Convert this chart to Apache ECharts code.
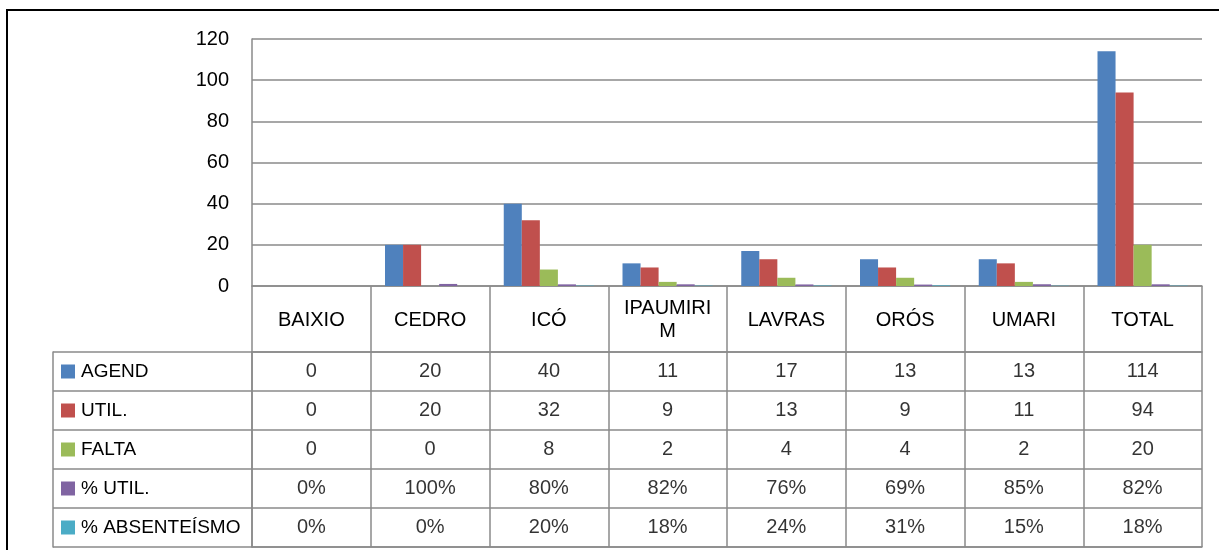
<!DOCTYPE html>
<html>
<head>
<meta charset="utf-8">
<script src="https://cdn.jsdelivr.net/npm/echarts@6/dist/echarts.min.js"></script>
<style>
  html, body { margin: 0; padding: 0; background: #fff; overflow: hidden; }
  #chart { width: 1219px; height: 550px; position: absolute; left: 0; top: 0; }
  #frame { position: absolute; left: 6px; top: 9px; width: 1300px; height: 700px;
           border-top: 2px solid #000; border-left: 2px solid #000; pointer-events: none; }
</style>
</head>
<body>
<div id="chart"></div>
<div id="frame"></div>
<script>
const categories = ['BAIXIO', 'CEDRO', 'ICÓ', 'IPAUMIRIM', 'LAVRAS', 'ORÓS', 'UMARI', 'TOTAL'];
const seriesNames = ['AGEND', 'UTIL.', 'FALTA', '% UTIL.', '% ABSENTEÍSMO'];
const agend = [0, 20, 40, 11, 17, 13, 13, 114];
const util = [0, 20, 32, 9, 13, 9, 11, 94];
const falta = [0, 0, 8, 2, 4, 4, 2, 20];
const pctUtil = [0, 1.00, 0.80, 0.82, 0.76, 0.69, 0.85, 0.82];
const pctAbs = [0, 0, 0.20, 0.18, 0.24, 0.31, 0.15, 0.18];
const yTicks = { min: 0, max: 120, interval: 20 };

const colors = ['#4F81BD', '#C0504D', '#9BBB59', '#8064A2', '#4BACC6'];
const rows = [agend, util, falta, pctUtil, pctAbs];
const isPct = [false, false, false, true, true];
const FONT = 'Liberation Sans';
const LINE = '#8a8a8a';

const tableData = [];
rows.forEach((arr, r) => arr.forEach((v, c) => tableData.push([c, r, v])));

const rich = { t: { fontFamily: FONT, fontSize: 19, color: '#000', padding: [0, 0, 0, 6] } };
colors.forEach((col, i) => { rich['s' + i] = { width: 14, height: 14, backgroundColor: col }; });

const chart = echarts.init(document.getElementById('chart'), null, { renderer: 'canvas' });
chart.setOption({
  animation: false,
  textStyle: { fontFamily: FONT },
  grid: [
    { left: 252, right: 17, top: 39, height: 247, containLabel: false },
    { left: 252, right: 17, top: 352, height: 195, containLabel: false }
  ],
  xAxis: [
    {
      type: 'category', gridIndex: 0, data: categories,
      axisLine: { show: true, lineStyle: { color: LINE, width: 1.5 } },
      axisTick: { show: true, interval: 0, length: 261, lineStyle: { color: LINE, width: 1.5 } },
      axisLabel: { interval: 0, margin: 34, verticalAlign: 'middle', fontFamily: FONT, fontSize: 20,
                   color: '#000', width: 100, overflow: 'breakAll', lineHeight: 23 },
      splitLine: { show: false }
    },
    {
      type: 'category', gridIndex: 1, data: categories, position: 'bottom',
      axisLine: { show: true, lineStyle: { color: LINE, width: 1.5 } },
      axisTick: { show: false }, axisLabel: { show: false }, splitLine: { show: false }
    },
    {
      type: 'category', gridIndex: 1, data: categories, position: 'top',
      axisLine: { show: true, lineStyle: { color: LINE, width: 1.5 } },
      axisTick: { show: false }, axisLabel: { show: false }, splitLine: { show: false }
    }
  ],
  yAxis: [
    {
      type: 'value', gridIndex: 0, min: yTicks.min, max: yTicks.max, interval: yTicks.interval,
      axisLine: { show: true, lineStyle: { color: LINE, width: 1.5 } },
      axisTick: { show: false },
      axisLabel: { margin: 23, fontFamily: FONT, fontSize: 20, color: '#000' },
      splitLine: { show: true, lineStyle: { color: LINE, width: 1.5 } }
    },
    {
      type: 'category', gridIndex: 1, data: seriesNames, inverse: true,
      axisLine: { show: true, lineStyle: { color: LINE, width: 1.5 } },
      axisTick: { show: true, interval: 0, length: 199, lineStyle: { color: LINE, width: 1.5 } },
      axisLabel: {
        interval: 0, margin: 191, align: 'left', verticalAlign: 'middle',
        formatter: (v, i) => '{s' + i + '|}{t|' + v + '}', rich: rich
      },
      splitLine: { show: true, interval: 0, lineStyle: { color: LINE, width: 1.5 } }
    },
    {
      type: 'category', gridIndex: 1, data: seriesNames, inverse: true, position: 'left', offset: 199,
      axisLine: { show: true, lineStyle: { color: LINE, width: 1.5 } },
      axisTick: { show: false }, axisLabel: { show: false }, splitLine: { show: false }
    }
  ],
  series: rows.map((arr, i) => ({
    name: seriesNames[i], type: 'bar', xAxisIndex: 0, yAxisIndex: 0, data: arr,
    barGap: '0%', barCategoryGap: '24%',
    itemStyle: { color: colors[i] }
  })).concat([{
    type: 'scatter', xAxisIndex: 1, yAxisIndex: 1, data: tableData, symbolSize: 0, silent: true,
    label: {
      show: true, position: 'inside', fontFamily: FONT, fontSize: 20, color: '#000',
      formatter: p => isPct[p.value[1]] ? Math.round(p.value[2] * 100) + '%' : String(p.value[2])
    }
  }])
});
</script>
</body>
</html>
